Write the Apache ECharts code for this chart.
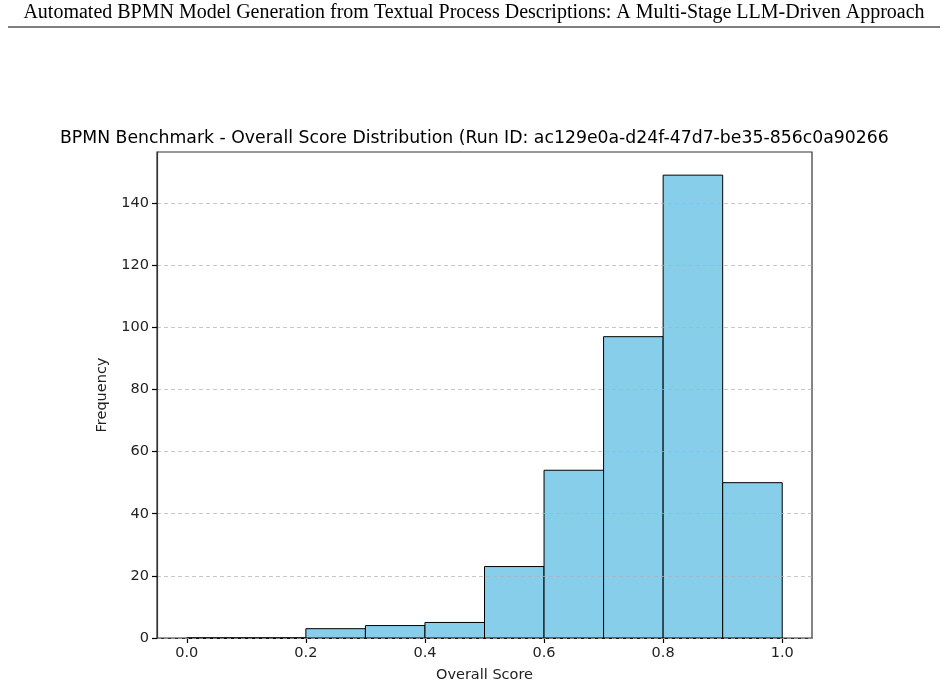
<!DOCTYPE html>
<html><head><meta charset="utf-8">
<script src="https://cdn.jsdelivr.net/npm/echarts@6/dist/echarts.min.js"></script>
<style>html,body{margin:0;padding:0;background:#fff}#c{width:948px;height:688px}</style>
</head><body><div id="c"></div>
<script>
var binStarts = [0.0, 0.1, 0.2, 0.3, 0.4, 0.5, 0.6, 0.7, 0.8, 0.9];
var binEnds   = [0.1, 0.2, 0.3, 0.4, 0.5, 0.6, 0.7, 0.8, 0.9, 1.0];
var counts    = [0, 0, 3, 4, 5, 23, 54, 97, 149, 50];
var xTicks = [0.0, 0.2, 0.4, 0.6, 0.8, 1.0];
var yTicks = [0, 20, 40, 60, 80, 100, 120, 140];
var headerText = 'Automated BPMN Model Generation from Textual Process Descriptions: A Multi-Stage LLM-Driven Approach';
var titleText = 'BPMN Benchmark - Overall Score Distribution (Run ID: ac129e0a-d24f-47d7-be35-856c0a90266';

var chart = echarts.init(document.getElementById('c'), null, {renderer: 'canvas'});
var data = binStarts.map(function(s, i){ return [s, binEnds[i], counts[i]]; });
var F = 'DejaVu Sans';
chart.setOption({
  animation: false,
  backgroundColor: '#fff',
  title: {
    text: titleText, left: 55, top: 125,
    textStyle: {fontFamily: F, fontSize: 17.3, fontWeight: 'normal', color: '#000'}
  },
  graphic: [
    {type: 'text', left: 'center', top: 3,
     style: {text: headerText, font: '20px "Liberation Serif"', fill: '#000'}},
    {type: 'line', shape: {x1: 8, y1: 27, x2: 940, y2: 27}, style: {stroke: '#000', lineWidth: 1}}
  ],
  grid: {left: 157, right: 136, top: 152, bottom: 48, show: true, borderColor: '#333', borderWidth: 1.2, backgroundColor: 'transparent'},
  xAxis: {
    type: 'value', min: -0.05, max: 1.05,
    name: 'Overall Score', nameLocation: 'middle', nameGap: 30,
    nameTextStyle: {fontFamily: F, fontSize: 14.5, color: '#222'},
    axisLine: {show: true, onZero: false, lineStyle: {color: '#333', width: 1.2}},
    axisTick: {show: true, inside: false, length: 5, lineStyle: {color: '#000', width: 1.2}, customValues: xTicks},
    axisLabel: {fontFamily: F, fontSize: 14.5, color: '#222', margin: 8, customValues: xTicks,
      formatter: function(v){ return v.toFixed(1); }},
    splitLine: {show: false}
  },
  yAxis: {
    type: 'value', min: 0, max: 156.45, z: 10,
    name: 'Frequency', nameLocation: 'middle', nameGap: 47,
    nameTextStyle: {fontFamily: F, fontSize: 14.5, color: '#222'},
    axisLine: {show: true, onZero: false, lineStyle: {color: '#333', width: 1.2}},
    axisTick: {show: true, inside: false, length: 5, lineStyle: {color: '#000', width: 1.2}, customValues: yTicks},
    axisLabel: {fontFamily: F, fontSize: 14.5, color: '#222', margin: 8, customValues: yTicks},
    splitLine: {show: true, lineStyle: {color: 'rgba(176,176,176,0.7)', type: [4, 3], width: 1}}
  },
  series: [{
    type: 'custom',
    data: data,
    z: 2,
    renderItem: function(params, api){
      var p0 = api.coord([api.value(0), api.value(2)]);
      var p1 = api.coord([api.value(1), 0]);
      return {
        type: 'rect',
        shape: {x: p0[0], y: p0[1], width: p1[0] - p0[0], height: p1[1] - p0[1]},
        style: {fill: '#87CEEB', stroke: '#000', lineWidth: 1}
      };
    },
    encode: {x: [0, 1], y: 2}
  }]
});
</script></body></html>
